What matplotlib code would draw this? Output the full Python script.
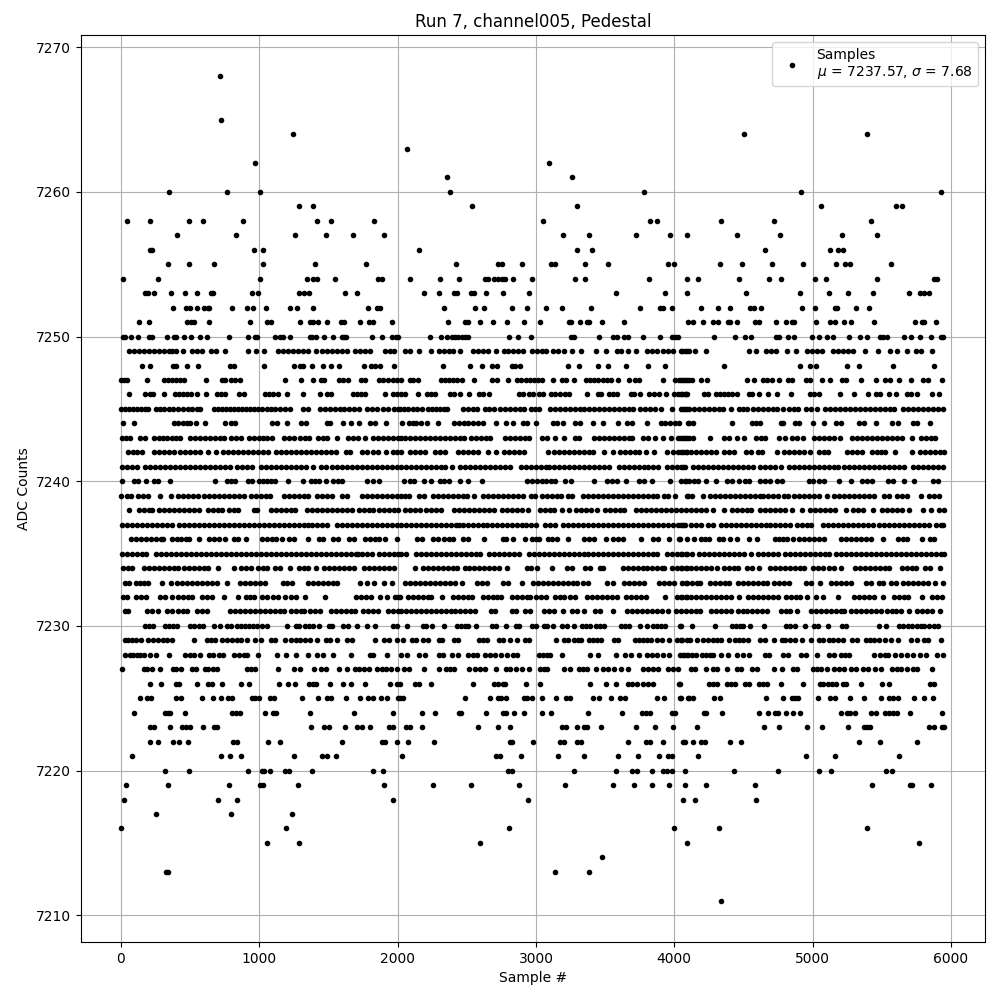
import matplotlib
matplotlib.use("Agg")
import matplotlib.pyplot as plt
import numpy as np

# Sample numbers for each ADC level
s7268 = [718]
s7265 = [725]
s7264 = [1246, 4506, 5395]
s7263 = [2070]
s7262 = [971, 3097]
s7261 = [2359, 3263]
s7260 = [350, 769, 1007, 2381, 3784, 4918, 5930]
s7259 = [1289, 1391, 2540, 3299, 5063, 5605, 5648]
s7258 = [46, 212, 494, 595, 884, 1420, 1521, 1832, 3053, 3827, 3877, 4340, 4723, 5424]
s7257 = [407, 834, 1260, 1485, 1680, 1904, 3198, 3386, 3726, 3971, 4094, 4456, 4766, 5215, 5468]
s7256 = [212, 224, 964, 1029, 2157, 3299, 3408, 4658, 5128, 5186, 5222]
s7255 = [342, 494, 675, 1029, 1405, 1774, 2424, 2728, 2752, 2901, 3111, 3140, 3357, 3523, 3957, 4000, 4333, 4492, 4709, 4933, 5171, 5236, 5272, 5569]
s7254 = [17, 270, 1007, 1347, 1391, 1420, 1550, 1860, 1885, 2092, 2309, 2446, 2634, 2656, 2699, 2728, 2752, 2779, 2836, 2974, 3285, 3357, 3820, 4094, 4174, 4470, 4687, 4774, 5019, 5099, 5468, 5880, 5897]
s7253 = [176, 198, 241, 364, 465, 552, 653, 668, 950, 993, 1289, 1325, 1362, 1622, 1709, 2193, 2301, 2410, 2427, 2533, 2552, 2641, 2764, 2952, 3581, 3935, 4094, 4521, 4911, 5121, 5258, 5439, 5699, 5779, 5807, 5844]
s7252 = [378, 472, 501, 552, 602, 631, 639, 805, 913, 952, 1051, 1224, 1275, 1391, 1788, 1853, 1875, 2338, 2562, 2627, 2829, 2938, 3075, 3191, 3400, 3755, 3899, 3921, 3986, 4195, 4318, 4405, 4549, 4578, 4629, 4925, 5019, 5164, 5178, 5316, 5410]
s7251 = [133, 205, 480, 508, 530, 639, 935, 1058, 1087, 1297, 1369, 1391, 1427, 1492, 1593, 1615, 1730, 1795, 1824, 1962, 2366, 2489, 2511, 2598, 2692, 2793, 2916, 3032, 3241, 3253, 3321, 3371, 3386, 3480, 3639, 4101, 4137, 4210, 4282, 4318, 4390, 4402, 4456, 4586, 4615, 4737, 4810, 4853, 4868, 5027, 5128, 5164, 5229, 5280, 5446, 5742, 5793, 5807, 5894]
s7250 = [17, 31, 75, 125, 205, 227, 335, 386, 400, 458, 508, 574, 624, 783, 921, 971, 981, 1116, 1152, 1174, 1224, 1369, 1383, 1412, 1470, 1535, 1600, 1615, 1629, 1817, 1890, 1962, 1988, 2005, 2236, 2316, 2359, 2395, 2415, 2439, 2463, 2487, 2511, 2807, 2873, 2967, 3256, 3277, 3458, 3559, 3584, 3639, 3668, 3776, 3899, 3986, 4008, 4029, 4289, 4441, 4513, 4557, 4737, 4759, 4824, 4868, 4998, 5048, 5106, 5150, 5265, 5345, 5395, 5489, 5511, 5540, 5663, 5713, 5779, 5858, 5930, 5945]
s7249 = [60, 96, 133, 169, 205, 241, 277, 313, 350, 371, 400, 451, 516, 552, 588, 653, 689, 754, 921, 978, 1036, 1138, 1174, 1210, 1246, 1282, 1318, 1355, 1412, 1456, 1492, 1528, 1564, 1600, 1636, 1694, 1730, 1767, 1803, 1911, 1947, 1976, 2056, 2092, 2157, 2243, 2301, 2338, 2374, 2403, 2453, 2547, 2583, 2620, 2656, 2713, 2771, 2800, 2836, 2873, 2909, 2974, 3010, 3046, 3075, 3126, 3162, 3205, 3263, 3328, 3436, 3509, 3588, 3617, 3668, 3726, 3805, 3841, 3877, 3921, 3957, 3993, 4058, 4094, 4051, 4080, 4108, 4152, 4231, 4542, 4593, 4665, 4701, 4737, 4817, 4882, 4962, 4998, 5034, 5070, 5150, 5186, 5222, 5258, 5294, 5381, 5475, 5562, 5612, 5685, 5750, 5786, 5865]
s7248 = [154, 212, 378, 400, 480, 559, 790, 820, 1036, 1253, 1297, 1318, 1383, 1463, 1521, 1578, 1759, 1810, 1839, 1875, 1976, 2330, 2525, 2612, 2685, 2721, 2829, 2851, 2887, 3234, 3313, 3451, 3523, 3653, 3812, 3935, 4362, 4911, 4983, 5027, 5251, 5337, 5583, 5880]
s7247 = [2, 24, 46, 190, 313, 342, 371, 400, 429, 458, 617, 733, 754, 798, 827, 863, 1188, 1304, 1391, 1449, 1470, 1578, 1608, 1644, 1738, 1767, 1868, 1897, 1933, 1969, 1998, 2027, 2092, 2113, 2150, 2316, 2345, 2374, 2403, 2431, 2468, 2554, 2685, 2721, 2800, 2865, 2894, 2930, 2959, 2988, 3017, 3046, 3126, 3191, 3220, 3277, 3364, 3393, 3422, 3451, 3487, 3516, 3545, 3595, 3675, 3718, 3747, 3921, 4008, 4037, 4065, 4094, 4051, 4080, 4108, 4128, 4195, 4239, 4528, 4578, 4644, 4672, 4709, 4759, 4824, 4853, 4954, 4983, 5070, 5128, 5215, 5244, 5352, 5460, 5525, 5562, 5627, 5713, 5800, 5836, 5938]
s7246 = [60, 176, 212, 234, 313, 393, 422, 451, 480, 508, 552, 617, 696, 725, 754, 856, 892, 1044, 1073, 1101, 1138, 1203, 1318, 1441, 1492, 1521, 1680, 1709, 1738, 1767, 1911, 1969, 1998, 2027, 2056, 2150, 2215, 2243, 2272, 2381, 2410, 2453, 2518, 2591, 2620, 2663, 2880, 2909, 2952, 2981, 3024, 3053, 3111, 3140, 3176, 3212, 3241, 3371, 3451, 3473, 3530, 3559, 3588, 3690, 3711, 3755, 3820, 3856, 3892, 3943, 4000, 4029, 4058, 4087, 4051, 4080, 4094, 4217, 4246, 4304, 4333, 4362, 4390, 4419, 4456, 4542, 4564, 4615, 4680, 4745, 4846, 4983, 5012, 5048, 5200, 5301, 5403, 5460, 5489, 5554, 5605, 5685, 5713, 5757, 5865, 5916]
s7245 = [2, 31, 60, 89, 118, 147, 176, 198, 255, 285, 313, 350, 378, 414, 451, 487, 516, 552, 574, 675, 704, 733, 762, 791, 820, 848, 877, 906, 935, 964, 993, 1022, 1058, 1087, 1116, 1152, 1188, 1224, 1318, 1355, 1441, 1477, 1514, 1550, 1586, 1615, 1651, 1687, 1723, 1781, 1817, 1853, 1897, 1933, 1976, 2005, 2017, 2046, 2077, 2113, 2142, 2178, 2222, 2251, 2280, 2309, 2338, 2359, 2475, 2511, 2547, 2576, 2634, 2663, 2699, 2742, 2779, 2815, 2851, 2887, 2916, 2967, 2995, 3024, 3104, 3140, 3176, 3212, 3249, 3285, 3321, 3350, 3386, 3422, 3458, 3494, 3530, 3567, 3603, 3639, 3675, 3704, 3755, 3791, 3827, 3863, 3906, 3986, 4065, 4094, 4051, 4080, 4108, 4145, 4181, 4217, 4253, 4289, 4325, 4354, 4412, 4470, 4499, 4528, 4571, 4607, 4644, 4680, 4716, 4745, 4788, 4831, 4868, 4897, 4954, 4991, 5034, 5092, 5128, 5164, 5200, 5236, 5272, 5309, 5345, 5381, 5417, 5453, 5489, 5525, 5562, 5590, 5656, 5692, 5728, 5764, 5800, 5836, 5873, 5909, 5945]
s7244 = [17, 96, 386, 414, 451, 480, 501, 545, 610, 754, 798, 827, 1094, 1130, 1203, 1304, 1340, 1492, 1514, 1608, 1665, 1723, 1803, 1839, 1918, 2034, 2084, 2113, 2135, 2171, 2210, 2294, 2410, 2446, 2482, 2511, 2547, 2583, 2620, 2713, 2786, 2836, 2909, 2938, 3003, 3126, 3155, 3198, 3285, 3321, 3415, 3487, 3595, 3661, 3697, 3805, 3906, 3935, 3971, 4008, 4037, 4102, 4108, 4137, 4419, 4564, 4593, 4622, 4774, 4788, 4875, 4904, 5005, 5084, 5171, 5207, 5337, 5374, 5460, 5576, 5619, 5728, 5757, 5851]
s7243 = [10, 39, 68, 140, 176, 241, 277, 306, 335, 371, 400, 429, 501, 537, 574, 610, 646, 682, 718, 747, 798, 834, 870, 928, 964, 1000, 1029, 1058, 1094, 1181, 1217, 1253, 1297, 1333, 1362, 1427, 1463, 1492, 1564, 1644, 1680, 1716, 1767, 1824, 1860, 1897, 1933, 1969, 2005, 2027, 2056, 2092, 2128, 2164, 2200, 2236, 2272, 2309, 2345, 2381, 2417, 2453, 2482, 2533, 2569, 2605, 2641, 2670, 2779, 2815, 2851, 2887, 2923, 2952, 3046, 3082, 3140, 3205, 3285, 3313, 3422, 3458, 3494, 3530, 3567, 3603, 3639, 3675, 3697, 3776, 3812, 3863, 3921, 3979, 4029, 4065, 4094, 4051, 4080, 4108, 4137, 4260, 4362, 4398, 4456, 4506, 4593, 4629, 4658, 4759, 4803, 4853, 4889, 4933, 5012, 5048, 5084, 5121, 5157, 5200, 5287, 5323, 5359, 5395, 5432, 5468, 5504, 5540, 5576, 5612, 5648, 5721, 5786, 5822, 5858, 5887]
s7242 = [53, 89, 118, 154, 241, 277, 313, 350, 386, 429, 465, 501, 537, 574, 631, 689, 740, 776, 812, 848, 885, 921, 957, 993, 1029, 1065, 1123, 1159, 1195, 1232, 1268, 1304, 1340, 1376, 1412, 1448, 1485, 1521, 1557, 1629, 1658, 1745, 1781, 1824, 1860, 1918, 1969, 1998, 2027, 2092, 2128, 2164, 2200, 2272, 2309, 2345, 2439, 2475, 2511, 2547, 2583, 2656, 2713, 2771, 2807, 2844, 2880, 2916, 3089, 3133, 3169, 3205, 3241, 3277, 3313, 3350, 3386, 3415, 3494, 3559, 3610, 3646, 3682, 3718, 3747, 3798, 3856, 3950, 3993, 4029, 4065, 4094, 4051, 4087, 4123, 4159, 4195, 4231, 4268, 4304, 4362, 4398, 4434, 4521, 4557, 4607, 4636, 4745, 4795, 4831, 4868, 4904, 4940, 4983, 5048, 5084, 5113, 5251, 5287, 5323, 5359, 5432, 5468, 5497, 5525, 5598, 5721, 5779, 5815, 5851, 5887, 5923, 5952]
s7241 = [10, 46, 82, 118, 176, 212, 248, 285, 321, 357, 393, 429, 465, 501, 537, 574, 610, 646, 682, 718, 754, 791, 841, 877, 913, 950, 1015, 1051, 1087, 1123, 1159, 1195, 1232, 1268, 1304, 1340, 1391, 1449, 1485, 1528, 1564, 1600, 1636, 1672, 1709, 1745, 1781, 1817, 1853, 1890, 1926, 1962, 1998, 2027, 2063, 2099, 2135, 2171, 2207, 2243, 2280, 2316, 2342, 2395, 2453, 2489, 2525, 2562, 2598, 2634, 2670, 2706, 2742, 2779, 2815, 2894, 2930, 2967, 3003, 3039, 3075, 3097, 3133, 3169, 3205, 3241, 3277, 3313, 3350, 3386, 3422, 3458, 3494, 3530, 3603, 3639, 3675, 3711, 3747, 3783, 3812, 3849, 3885, 3945, 3981, 4017, 4065, 4051, 4080, 4137, 4174, 4210, 4246, 4282, 4318, 4354, 4390, 4427, 4463, 4499, 4535, 4571, 4622, 4658, 4694, 4730, 4774, 4831, 4868, 4904, 4940, 4976, 5012, 5048, 5084, 5121, 5157, 5186, 5229, 5265, 5301, 5337, 5374, 5410, 5446, 5482, 5518, 5554, 5590, 5627, 5663, 5728, 5764, 5800, 5836, 5873, 5909, 5945]
s7240 = [10, 96, 125, 183, 241, 270, 357, 682, 769, 798, 827, 921, 950, 1000, 1029, 1058, 1087, 1116, 1210, 1318, 1376, 1405, 1434, 1485, 1535, 1571, 1600, 1781, 1824, 1868, 2048, 2092, 2121, 2193, 2243, 2309, 2338, 2374, 2453, 2511, 2612, 2938, 2974, 3010, 3046, 3075, 3111, 3140, 3212, 3256, 3422, 3516, 3552, 3588, 3653, 3747, 3783, 3841, 3971, 4051, 4087, 4080, 4108, 4145, 4174, 4231, 4304, 4383, 4419, 4470, 4513, 4542, 4622, 4658, 4694, 4745, 4781, 4976, 5005, 5048, 5084, 5193, 5280, 5359, 5395, 5432, 5547, 5583, 5663, 5735, 5873, 5909]
s7239 = [2, 46, 75, 125, 161, 198, 285, 364, 414, 451, 487, 523, 559, 602, 639, 675, 711, 747, 783, 820, 856, 892, 942, 978, 1015, 1051, 1080, 1181, 1217, 1253, 1289, 1325, 1355, 1420, 1456, 1492, 1528, 1600, 1636, 1745, 1781, 1817, 1853, 1890, 1926, 1962, 1998, 2027, 2056, 2084, 2157, 2193, 2258, 2294, 2330, 2366, 2403, 2439, 2475, 2504, 2554, 2620, 2656, 2692, 2728, 2764, 2800, 2836, 2873, 2909, 2967, 2995, 3046, 3082, 3118, 3155, 3183, 3234, 3263, 3342, 3379, 3415, 3451, 3487, 3523, 3559, 3595, 3632, 3668, 3704, 3740, 3776, 3812, 3849, 3877, 3928, 3957, 4008, 4094, 4101, 4130, 4210, 4260, 4296, 4333, 4369, 4405, 4441, 4477, 4513, 4549, 4586, 4622, 4644, 4680, 4716, 4752, 4795, 4824, 4868, 4904, 4940, 4976, 5012, 5048, 5106, 5157, 5193, 5229, 5265, 5301, 5337, 5374, 5410, 5446, 5518, 5554, 5612, 5648, 5685, 5786, 5844, 5880, 5916]
s7238 = [60, 133, 169, 205, 227, 277, 313, 350, 386, 422, 458, 494, 530, 566, 631, 668, 704, 733, 783, 820, 848, 964, 985, 1087, 1123, 1159, 1195, 1232, 1260, 1347, 1383, 1420, 1456, 1492, 1528, 1564, 1600, 1636, 1672, 1723, 1759, 1795, 1824, 1868, 1904, 1940, 1976, 2005, 2056, 2092, 2128, 2164, 2207, 2243, 2280, 2316, 2410, 2446, 2482, 2518, 2554, 2591, 2627, 2663, 2699, 2757, 2793, 2829, 2865, 2901, 2945, 3032, 3068, 3104, 3133, 3191, 3241, 3292, 3328, 3364, 3400, 3444, 3501, 3538, 3574, 3610, 3639, 3726, 3762, 3798, 3834, 3870, 3906, 3943, 3979, 4015, 4051, 4087, 4123, 4159, 4195, 4231, 4282, 4362, 4419, 4456, 4492, 4528, 4557, 4622, 4658, 4694, 4730, 4766, 4803, 4853, 4925, 4983, 5019, 5056, 5092, 5128, 5164, 5244, 5294, 5330, 5367, 5439, 5504, 5540, 5576, 5612, 5648, 5699, 5800, 5858, 5916, 5952]
s7237 = [10, 46, 82, 118, 154, 190, 227, 263, 299, 335, 371, 422, 458, 494, 530, 566, 602, 639, 675, 711, 747, 783, 820, 856, 892, 928, 964, 1000, 1036, 1073, 1109, 1145, 1181, 1217, 1253, 1289, 1325, 1355, 1383, 1420, 1456, 1492, 1564, 1600, 1636, 1672, 1709, 1745, 1781, 1817, 1853, 1890, 1926, 1962, 1998, 2027, 2063, 2099, 2135, 2171, 2207, 2243, 2280, 2316, 2352, 2388, 2424, 2446, 2475, 2511, 2547, 2583, 2620, 2648, 2685, 2721, 2757, 2793, 2829, 2865, 2901, 2930, 2967, 3003, 3068, 3104, 3140, 3198, 3234, 3270, 3306, 3342, 3379, 3415, 3451, 3487, 3523, 3559, 3595, 3632, 3668, 3704, 3740, 3776, 3812, 3849, 3885, 3921, 3957, 3993, 4029, 4065, 4051, 4080, 4123, 4159, 4195, 4246, 4282, 4340, 4376, 4412, 4448, 4484, 4521, 4557, 4593, 4629, 4665, 4694, 4730, 4766, 4803, 4839, 4889, 4925, 4962, 4991, 5077, 5113, 5150, 5186, 5222, 5258, 5294, 5330, 5367, 5403, 5439, 5482, 5518, 5554, 5590, 5627, 5663, 5699, 5735, 5771, 5807, 5844, 5894, 5930, 5945]
s7236 = [75, 111, 147, 183, 219, 255, 292, 306, 371, 407, 436, 472, 494, 566, 639, 675, 711, 754, 820, 848, 906, 1022, 1058, 1094, 1123, 1166, 1217, 1253, 1355, 1434, 1463, 1535, 1571, 1651, 1687, 1767, 1803, 1839, 1868, 1911, 1998, 2142, 2178, 2258, 2294, 2338, 2374, 2403, 2475, 2511, 2627, 2764, 2786, 2836, 2923, 2974, 3003, 3024, 3089, 3118, 3155, 3234, 3350, 3386, 3422, 3509, 3559, 3595, 3632, 3762, 3849, 3885, 3964, 4037, 4094, 4041, 4145, 4195, 4224, 4253, 4325, 4354, 4405, 4456, 4542, 4600, 4730, 4759, 4788, 4817, 4860, 4904, 4940, 4976, 5012, 5048, 5084, 5207, 5244, 5280, 5316, 5352, 5388, 5424, 5511, 5619, 5656, 5685, 5793, 5851, 5880]
s7235 = [10, 46, 82, 118, 154, 183, 255, 292, 328, 364, 400, 436, 472, 508, 545, 581, 617, 653, 689, 725, 762, 798, 834, 870, 906, 942, 978, 1015, 1051, 1087, 1123, 1159, 1195, 1232, 1268, 1304, 1340, 1376, 1412, 1448, 1485, 1521, 1557, 1593, 1629, 1665, 1701, 1716, 1745, 1781, 1817, 1868, 1904, 1940, 1976, 2005, 2027, 2063, 2135, 2171, 2207, 2243, 2280, 2316, 2352, 2388, 2424, 2460, 2497, 2533, 2569, 2595, 2663, 2699, 2735, 2771, 2807, 2844, 2880, 2952, 2988, 3024, 3061, 3097, 3133, 3169, 3205, 3241, 3277, 3313, 3350, 3379, 3415, 3451, 3487, 3523, 3559, 3595, 3632, 3668, 3704, 3740, 3776, 3812, 3849, 3877, 3950, 3986, 4022, 4058, 4094, 4051, 4087, 4130, 4181, 4217, 4253, 4289, 4325, 4362, 4398, 4434, 4470, 4506, 4557, 4607, 4644, 4680, 4716, 4752, 4803, 4839, 4875, 4911, 4947, 4983, 5019, 5056, 5092, 5121, 5171, 5207, 5244, 5280, 5316, 5352, 5388, 5424, 5460, 5497, 5533, 5569, 5605, 5641, 5677, 5713, 5750, 5786, 5822, 5858, 5894, 5930, 5950]
s7234 = [17, 53, 82, 169, 205, 241, 277, 313, 350, 386, 414, 458, 494, 530, 566, 602, 631, 704, 820, 870, 906, 942, 993, 1029, 1058, 1116, 1152, 1224, 1289, 1325, 1355, 1412, 1470, 1506, 1542, 1578, 1615, 1651, 1687, 1759, 1795, 1832, 1868, 1904, 1940, 1976, 2128, 2186, 2222, 2258, 2294, 2330, 2366, 2403, 2431, 2489, 2518, 2554, 2591, 2627, 2663, 2699, 2735, 2793, 2938, 2967, 3010, 3118, 3227, 3263, 3357, 3393, 3465, 3487, 3632, 3668, 3704, 3740, 3776, 3805, 3841, 3877, 3914, 3928, 3986, 4022, 4058, 4094, 4051, 4087, 4123, 4159, 4195, 4231, 4268, 4311, 4362, 4398, 4434, 4463, 4528, 4564, 4615, 4694, 4730, 4766, 4803, 4839, 4875, 4911, 4940, 5005, 5041, 5077, 5121, 5157, 5207, 5309, 5345, 5381, 5417, 5453, 5489, 5525, 5554, 5648, 5685, 5721, 5750, 5815, 5851, 5923]
s7233 = [31, 60, 111, 140, 169, 198, 299, 364, 407, 443, 480, 516, 552, 588, 624, 660, 696, 769, 863, 899, 935, 971, 1007, 1044, 1174, 1203, 1239, 1355, 1391, 1427, 1463, 1499, 1535, 1564, 1730, 1781, 1832, 1904, 1962, 2056, 2092, 2128, 2164, 2200, 2236, 2272, 2309, 2345, 2381, 2417, 2468, 2576, 2612, 2648, 2764, 2800, 2901, 2981, 3017, 3053, 3089, 3126, 3162, 3198, 3234, 3270, 3299, 3342, 3379, 3516, 3559, 3639, 3675, 3711, 3747, 3783, 3892, 3928, 3964, 4000, 4058, 4087, 4094, 4130, 4166, 4188, 4260, 4296, 4333, 4369, 4398, 4463, 4499, 4535, 4571, 4607, 4644, 4672, 4723, 4759, 4795, 4831, 4954, 4991, 5056, 5135, 5171, 5207, 5244, 5280, 5388, 5424, 5482, 5511, 5569, 5605, 5656, 5692, 5728, 5764, 5800, 5836, 5887, 5945]
s7232 = [17, 46, 111, 147, 183, 285, 321, 371, 414, 451, 487, 516, 588, 624, 660, 747, 848, 906, 935, 964, 1022, 1058, 1101, 1138, 1188, 1232, 1268, 1333, 1477, 1701, 1738, 1774, 1810, 1875, 1926, 1984, 2005, 2017, 2077, 2113, 2150, 2186, 2222, 2243, 2323, 2403, 2439, 2475, 2511, 2540, 2620, 2656, 2692, 2721, 2750, 2829, 2865, 2901, 2938, 2959, 3003, 3039, 3075, 3140, 3176, 3205, 3249, 3285, 3371, 3407, 3444, 3480, 3516, 3552, 3588, 3653, 3690, 3726, 3762, 3798, 3935, 4022, 4058, 4094, 4051, 4087, 4123, 4159, 4195, 4231, 4268, 4304, 4340, 4376, 4412, 4470, 4535, 4571, 4607, 4644, 4680, 4716, 4752, 4810, 4846, 4882, 4911, 4962, 5027, 5077, 5186, 5301, 5337, 5374, 5410, 5446, 5511, 5590, 5627, 5663, 5692, 5793, 5865, 5901, 5938]
s7231 = [31, 53, 190, 227, 270, 335, 371, 414, 451, 480, 552, 588, 624, 791, 827, 863, 899, 935, 971, 1007, 1044, 1080, 1116, 1152, 1181, 1232, 1268, 1304, 1325, 1369, 1405, 1441, 1521, 1557, 1593, 1629, 1665, 1694, 1752, 1788, 1824, 1860, 1933, 1969, 2005, 2027, 2063, 2099, 2135, 2171, 2207, 2243, 2280, 2316, 2352, 2388, 2417, 2453, 2489, 2525, 2562, 2678, 2706, 2829, 2858, 2923, 2959, 3061, 3097, 3133, 3198, 3263, 3299, 3350, 3429, 3465, 3559, 3661, 3697, 3733, 3769, 3805, 3841, 3877, 3914, 3957, 4015, 4051, 4087, 4123, 4159, 4188, 4268, 4304, 4340, 4376, 4412, 4463, 4499, 4528, 4564, 4600, 4636, 4672, 4774, 4810, 4839, 4889, 4991, 5027, 5063, 5099, 5135, 5171, 5207, 5229, 5280, 5316, 5352, 5388, 5424, 5460, 5497, 5540, 5576, 5605, 5641, 5699, 5757, 5793, 5829, 5865, 5923]
s7230 = [176, 205, 234, 321, 350, 378, 407, 501, 530, 566, 595, 675, 718, 769, 798, 841, 870, 899, 928, 956, 985, 1022, 1058, 1203, 1268, 1289, 1333, 1362, 1391, 1434, 1506, 1528, 1608, 1644, 1709, 1781, 1839, 1969, 1998, 2070, 2186, 2207, 2251, 2338, 2431, 2460, 2489, 2511, 2569, 2685, 2713, 2786, 2858, 2880, 2974, 3003, 3061, 3082, 3121, 3191, 3227, 3277, 3335, 3364, 3393, 3437, 3465, 3494, 3617, 3646, 3675, 3755, 3805, 3849, 3877, 3906, 3935, 4044, 4048, 4130, 4296, 4419, 4448, 4477, 4499, 4549, 4651, 4810, 4839, 4875, 4947, 5012, 5041, 5113, 5215, 5244, 5482, 5533, 5627, 5656, 5692, 5721, 5757, 5786, 5807, 5844, 5880, 5909]
s7229 = [31, 53, 82, 111, 147, 198, 234, 270, 306, 335, 371, 530, 624, 653, 682, 733, 769, 805, 841, 865, 913, 971, 1014, 1087, 1116, 1188, 1232, 1268, 1297, 1333, 1369, 1420, 1485, 1511, 1564, 1636, 1672, 1839, 1904, 1940, 1998, 2041, 2106, 2135, 2186, 2222, 2301, 2323, 2410, 2439, 2591, 2620, 2648, 2735, 2764, 2815, 2865, 2923, 2952, 3147, 3205, 3234, 3277, 3306, 3328, 3386, 3415, 3444, 3473, 3567, 3595, 3718, 3747, 3776, 3805, 3834, 3877, 3914, 3964, 4022, 4058, 4094, 4051, 4113, 4166, 4210, 4246, 4282, 4311, 4340, 4398, 4441, 4470, 4499, 4535, 4622, 4658, 4723, 4781, 4803, 4839, 4875, 4925, 4991, 5048, 5077, 5121, 5150, 5186, 5222, 5287, 5323, 5388, 5417, 5446, 5482, 5525, 5569, 5619, 5713, 5757, 5807, 5836, 5930]
s7228 = [31, 68, 89, 118, 140, 169, 212, 255, 350, 465, 501, 530, 574, 639, 668, 711, 740, 820, 856, 892, 913, 993, 1130, 1195, 1268, 1355, 1420, 1463, 1535, 1665, 1803, 1824, 1926, 2027, 2070, 2157, 2200, 2301, 2330, 2395, 2439, 2511, 2547, 2576, 2634, 2668, 2706, 2750, 2793, 2836, 2865, 3024, 3053, 3082, 3104, 3191, 3393, 3451, 3581, 3646, 3690, 3747, 3805, 3841, 3877, 3921, 3964, 4065, 4094, 4041, 4070, 4099, 4128, 4157, 4200, 4229, 4258, 4282, 4340, 4390, 4456, 4499, 4542, 4658, 4687, 4788, 4824, 4918, 4954, 5031, 5121, 5157, 5207, 5236, 5265, 5444, 5489, 5525, 5547, 5598, 5641, 5685, 5728, 5779, 5822, 5901, 5945]
s7227 = [10, 169, 190, 227, 285, 378, 400, 436, 516, 545, 610, 631, 668, 696, 913, 942, 971, 1138, 1253, 1297, 1398, 1449, 1485, 1578, 1636, 1694, 1723, 1759, 1795, 1853, 1890, 1918, 1955, 1998, 2048, 2084, 2193, 2301, 2352, 2381, 2410, 2518, 2562, 2598, 2634, 2713, 2786, 2815, 2858, 2901, 2952, 3032, 3061, 3082, 3205, 3249, 3313, 3342, 3371, 3437, 3487, 3523, 3567, 3617, 3668, 3776, 3812, 3849, 3885, 3957, 3993, 4029, 4123, 4152, 4231, 4282, 4311, 4383, 4456, 4484, 4564, 4600, 4723, 4781, 4860, 4889, 5005, 5034, 5063, 5106, 5157, 5193, 5229, 5280, 5316, 5367, 5403, 5453, 5497, 5576, 5612, 5641, 5685, 5728, 5757, 5865]
s7226 = [212, 292, 400, 422, 552, 631, 660, 733, 870, 928, 1145, 1210, 1260, 1362, 1391, 1412, 1514, 1608, 1665, 1767, 1947, 1998, 2017, 2128, 2157, 2243, 2547, 2699, 2728, 2764, 2779, 2930, 3032, 3393, 3509, 3581, 3668, 3697, 3733, 3776, 3812, 3849, 4037, 4041, 4253, 4282, 4311, 4383, 4412, 4441, 4513, 4542, 4615, 4644, 4672, 4774, 4933, 5056, 5077, 5113, 5142, 5171, 5222, 5244, 5350, 5504, 5554, 5851, 5880]
s7225 = [140, 190, 219, 400, 436, 588, 668, 725, 776, 805, 950, 971, 1000, 1080, 1109, 1311, 1427, 1492, 1518, 1629, 1730, 1788, 1824, 1882, 1926, 2005, 2017, 2041, 2489, 2670, 2728, 2750, 2786, 2916, 2938, 2974, 3046, 3147, 3220, 3249, 3415, 3458, 3545, 3610, 3646, 3877, 3928, 4044, 4102, 4048, 4108, 4137, 4289, 4333, 4665, 4788, 4853, 4875, 4897, 5041, 5128, 5164, 5272, 5374, 5497, 5554, 5583, 5619, 5735, 5807, 5873]
s7224 = [96, 321, 342, 357, 465, 805, 834, 860, 1044, 1101, 1123, 1369, 1687, 1969, 2178, 2272, 2446, 2460, 2641, 2764, 2786, 2844, 2916, 3046, 3111, 3379, 3624, 3769, 3798, 3827, 3986, 4008, 4217, 4231, 4347, 4615, 4680, 4730, 4752, 4810, 4860, 4911, 5207, 5251, 5272, 5309, 5424, 5460, 5525, 5554, 5583, 5612, 5706, 5938]
s7223 = [212, 241, 357, 443, 472, 501, 595, 675, 696, 1376, 1470, 1506, 1622, 1709, 1745, 1803, 1940, 1969, 2063, 2092, 2178, 2583, 2728, 2815, 3191, 3220, 3299, 3350, 3371, 3473, 3726, 3863, 3993, 4166, 4651, 4759, 4962, 5070, 5258, 5374, 5395, 5417, 5844, 5880, 5935, 5950]
s7222 = [212, 270, 378, 422, 487, 812, 836, 1065, 1152, 1600, 1890, 1909, 1998, 2077, 2265, 2812, 2829, 2981, 3176, 3205, 3299, 3326, 3668, 3798, 3827, 3921, 4065, 4080, 4137, 4195, 4224, 4405, 4484, 5337, 5489, 5757]
s7221 = [82, 725, 791, 870, 1253, 1456, 1492, 1557, 2034, 2713, 2740, 2894, 3162, 3350, 3595, 3740, 3892, 3957, 3986, 4174, 4954, 5164, 5627]
s7220 = [321, 494, 921, 1022, 1036, 1080, 1188, 1212, 1383, 1824, 1897, 2800, 2824, 3277, 3581, 3697, 3733, 3841, 3921, 3945, 3986, 4080, 4434, 4752, 5048, 5135, 5533, 5576]
s7219 = [39, 342, 783, 1007, 1029, 1282, 1904, 2258, 2533, 2880, 3212, 3559, 3711, 3841, 3964, 4080, 4231, 4586, 5432, 5706, 5721, 5858]
s7218 = [24, 704, 841, 1969, 2945, 4065, 4152, 4593]
s7217 = [255, 798, 1239]
s7216 = [2, 1195, 2807, 4000, 4325, 5395]
s7215 = [1058, 1289, 2598, 4094, 5771]
s7214 = [3480]
s7213 = [325, 342, 3140, 3386]
s7211 = [4340]

level_values = [7268, 7265, 7264, 7263, 7262, 7261, 7260, 7259, 7258, 7257, 7256, 7255, 7254, 7253, 7252,
                7251, 7250, 7249, 7248, 7247, 7246, 7245, 7244, 7243, 7242, 7241, 7240, 7239, 7238, 7237,
                7236, 7235, 7234, 7233, 7232, 7231, 7230, 7229, 7228, 7227, 7226, 7225, 7224, 7223, 7222,
                7221, 7220, 7219, 7218, 7217, 7216, 7215, 7214, 7213, 7211]
level_samples = [s7268, s7265, s7264, s7263, s7262, s7261, s7260, s7259, s7258, s7257, s7256, s7255, s7254, s7253, s7252,
                 s7251, s7250, s7249, s7248, s7247, s7246, s7245, s7244, s7243, s7242, s7241, s7240, s7239, s7238, s7237,
                 s7236, s7235, s7234, s7233, s7232, s7231, s7230, s7229, s7228, s7227, s7226, s7225, s7224, s7223, s7222,
                 s7221, s7220, s7219, s7218, s7217, s7216, s7215, s7214, s7213, s7211]

xs = np.concatenate([np.asarray(s, dtype=float) for s in level_samples])
ys = np.concatenate([np.full(len(s), v, dtype=float) for s, v in zip(level_samples, level_values)])

fig, ax = plt.subplots(figsize=(10, 10), dpi=100)
ax.plot(xs, ys, 'k.', label='Samples\n$\\mu$ = 7237.57, $\\sigma$ = 7.68')
ax.set_xlim(-289, 6246)
ax.set_ylim(7208.15, 7270.85)
ax.set_xlabel('Sample #')
ax.set_ylabel('ADC Counts')
ax.set_title('Run 7, channel005, Pedestal')
ax.ticklabel_format(useOffset=False, style='plain', axis='y')
ax.grid(True)
ax.legend(loc='upper right')
fig.subplots_adjust(left=0.081, right=0.985, top=0.965, bottom=0.058)
fig.savefig('out.png', dpi=100)
